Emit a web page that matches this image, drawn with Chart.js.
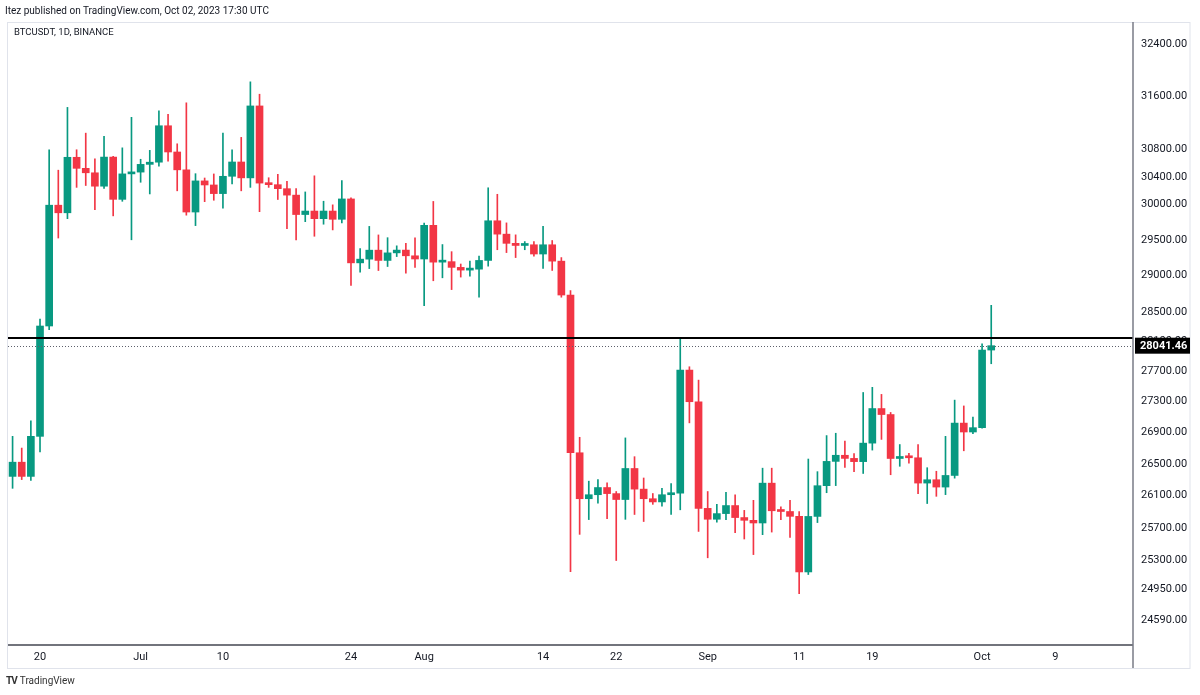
<!DOCTYPE html>
<html>
<head>
<meta charset="utf-8">
<script src="https://cdn.jsdelivr.net/npm/chart.js@4.4.0/dist/chart.umd.min.js"></script>
<style>
  html, body { margin: 0; padding: 0; background: #fff; }
  body { width: 1200px; height: 695px; position: relative; overflow: hidden; font-family: Roboto, "Liberation Sans", sans-serif; color: #131722; }
  #wrap { position: absolute; left: 0; top: 0; width: 1200px; height: 695px; }
  .txt { position: absolute; white-space: nowrap; }
  #pub { left: 5px; top: 5px; font-size: 10px; }
  #sym { left: 14px; top: 26px; font-size: 9.5px; }
  #logo { left: 6px; top: 675px; font-size: 10px; color: #333; }
  #logo b { font-size: 10px; letter-spacing: -1px; margin-right: 3px; }
</style>
</head>
<body>
<div id="wrap"><canvas id="btcChart"></canvas></div>
<div class="txt" id="pub">Itez published on TradingView.com, Oct 02, 2023 17:30 UTC</div>
<div class="txt" id="sym">BTCUSDT, 1D, BINANCE</div>
<div class="txt" id="logo"><b>TV</b>TradingView</div>
<script>
// ==========================================
// data (BTCUSDT 1D, Jun 17 - Oct 2 2023)
// ==========================================

const startDay = "2023-06-17";
const dayCount = 123;          // axis runs on to Oct 17

const opens = [
  26340, 26520, 26340, 26850, 28307, 29993, 29884, 30689, 30527, 30462,
  30267, 30692, 30077, 30446, 30472, 30585, 30617, 31156, 30767, 30505,
  29895, 30344, 30285, 30160, 30411, 30620, 30388, 31453, 30312, 30289,
  30231, 30138, 29859, 29909, 29800, 29909, 29791, 30083, 29176, 29228,
  29354, 29210, 29316, 29355, 29275, 29230, 29705, 29186, 29193, 29113,
  29075, 29088, 29210, 29770, 29580, 29450, 29420, 29430, 29300, 29430,
  29200, 28730, 26640, 26060, 26110, 26200, 26124, 26050, 26440, 26180,
  26060, 26020, 26110, 26130, 27716, 27299, 25940, 25805, 25875, 25975,
  25826, 25792, 25759, 26255, 25910, 25901, 25841, 25162, 25840, 26223,
  26530, 26608, 26568, 26527, 26763, 27210, 27132, 26567, 26580, 26576,
  26256, 26298, 26206, 26352, 27021, 26906, 26962, 27983
];
const highs = [
  26850, 26700, 27050, 28402, 30800, 30500, 31431, 30800, 31046, 30666,
  31000, 30703, 30828, 31282, 30660, 30791, 31380, 31326, 30888, 31500,
  30449, 30386, 30445, 31045, 30800, 30983, 31818, 31630, 30390, 30440,
  30336, 30233, 30184, 30418, 30050, 29998, 30350, 30099, 29376, 29690,
  29569, 29530, 29415, 29450, 29528, 29737, 30047, 29433, 29333, 29160,
  29200, 29270, 30244, 30150, 29740, 29570, 29475, 29475, 29690, 29490,
  29250, 28790, 26838, 26280, 26299, 26260, 26150, 26830, 26590, 26320,
  26125, 26190, 26250, 28142, 27760, 27583, 26150, 25990, 26140, 26110,
  25915, 26040, 26444, 26444, 25960, 26040, 25900, 26560, 26400, 26860,
  26890, 26790, 26630, 27420, 27488, 27395, 27159, 26745, 26632, 26745,
  26450, 26405, 26850, 27320, 27244, 27100, 28065, 28589
];
const lows = [
  26190, 26300, 26290, 26651, 28259, 29525, 29800, 30250, 30277, 29930,
  30236, 29840, 30049, 29500, 30324, 30155, 30559, 30633, 30200, 29850,
  29701, 30044, 30064, 29950, 30300, 30200, 30250, 29900, 30250, 30075,
  29659, 29500, 29757, 29550, 29721, 29640, 29740, 28861, 29047, 29096,
  29069, 29125, 29264, 29033, 29113, 28585, 28927, 28968, 28805, 28978,
  28990, 28702, 29130, 29360, 29320, 29250, 29360, 29270, 29100, 29070,
  28700, 25166, 25619, 25801, 26006, 25812, 25300, 25804, 25864, 25777,
  25990, 25966, 25864, 25922, 27024, 25655, 25333, 25770, 25800, 25640,
  25562, 25372, 25615, 25647, 25801, 25580, 24901, 25131, 25764, 26135,
  26224, 26455, 26400, 26377, 26674, 26811, 26361, 26468, 26509, 26122,
  26000, 26090, 26111, 26318, 26665, 26886, 26954, 27800
];
const closes = [
  26520, 26340, 26850, 28307, 29993, 29884, 30689, 30527, 30462, 30267,
  30692, 30077, 30446, 30472, 30585, 30617, 31156, 30767, 30505, 29895,
  30344, 30285, 30160, 30411, 30620, 30388, 31453, 30312, 30289, 30231,
  30138, 29859, 29909, 29800, 29909, 29791, 30083, 29176, 29228, 29354,
  29210, 29316, 29355, 29275, 29230, 29705, 29186, 29193, 29113, 29075,
  29088, 29210, 29770, 29580, 29450, 29420, 29430, 29300, 29430, 29200,
  28730, 26640, 26060, 26110, 26200, 26124, 26050, 26440, 26180, 26060,
  26020, 26110, 26130, 27716, 27299, 25940, 25805, 25875, 25975, 25826,
  25792, 25759, 26255, 25910, 25901, 25841, 25162, 25840, 26223, 26530,
  26608, 26568, 26527, 26763, 27210, 27132, 26567, 26580, 26576, 26256,
  26298, 26206, 26352, 27021, 26906, 26962, 27983, 28041.46
];

// price axis ticks
const yTickValues = [32400, 31600, 30800, 30400, 30000, 29500, 29000, 28500, 28100,
  27700, 27300, 26900, 26500, 26100, 25700, 25300, 24950, 24590];
const yMin = 24297;
const yMax = 32743;

// time axis ticks
const xTickDays = ["2023-06-20", "2023-07-01", "2023-07-10", "2023-07-24", "2023-08-01", "2023-08-14",
  "2023-08-22", "2023-09-01", "2023-09-11", "2023-09-19", "2023-10-01", "2023-10-09"];
const xTickText = ["20", "Jul", "10", "24", "Aug", "14", "22", "Sep", "11", "19", "Oct", "9"];

const levelPrice = 28142;      // horizontal line (Aug 29 high)
const lastPrice = 28041.46;

const upColor = "#089981";
const downColor = "#F23645";

// ==========================================
// build
// ==========================================

const days = [];
const d0 = new Date(startDay + "T00:00:00Z");
for (let i = 0; i < dayCount; i++) {
    const d = new Date(d0.getTime() + i * 86400000);
    days.push(d.toISOString().slice(0, 10));
}

const bodyData = opens.map((o, i) => [o, closes[i]]);
const wickData = lows.map((l, i) => [l, highs[i]]);
const candleColors = opens.map((o, i) => closes[i] >= o ? upColor : downColor);

const tickMap = {};
xTickDays.forEach((d, i) => { tickMap[d] = xTickText[i]; });

const FONT = "Roboto, 'Liberation Sans', sans-serif";

const overlay = {
    id: "overlay",
    afterDatasetsDraw(chart) {
        const c = chart.ctx;
        const a = chart.chartArea;
        const y = chart.scales.y;
        const yl = Math.round(y.getPixelForValue(levelPrice));
        const yp = Math.round(y.getPixelForValue(lastPrice)) + 0.5;
        c.save();
        // dotted last price line
        c.strokeStyle = "#5d606b";
        c.lineWidth = 1;
        c.setLineDash([1, 2]);
        c.beginPath();
        c.moveTo(a.left, yp);
        c.lineTo(a.right, yp);
        c.stroke();
        c.setLineDash([]);
        // level line
        c.strokeStyle = "#000000";
        c.lineWidth = 2;
        c.beginPath();
        c.moveTo(a.left, yl);
        c.lineTo(a.right, yl);
        c.stroke();
        c.restore();
    },
    afterDraw(chart) {
        const c = chart.ctx;
        const a = chart.chartArea;
        const y = chart.scales.y;
        const x = chart.scales.x;
        c.save();
        // outer frame
        c.strokeStyle = "#e0e3eb";
        c.lineWidth = 1;
        c.strokeRect(7.5, a.top + 0.5, y.right - 7.5, x.bottom - a.top);
        // pane borders
        c.strokeStyle = "#434651";
        c.lineWidth = 1.5;
        c.beginPath();
        c.moveTo(a.left, a.bottom);
        c.lineTo(a.right, a.bottom);
        c.stroke();
        c.strokeStyle = "#787b86";
        c.lineWidth = 1.5;
        c.beginPath();
        c.moveTo(a.right, a.top);
        c.lineTo(a.right, x.bottom);
        c.stroke();
        // last price label
        const yp = y.getPixelForValue(lastPrice);
        c.fillStyle = "#000000";
        c.fillRect(a.right + 2, yp - 8, y.right - a.right - 2, 16);
        c.fillStyle = "#ffffff";
        c.font = "bold 11px " + FONT;
        c.textBaseline = "middle";
        c.textAlign = "left";
        c.fillText(lastPrice.toFixed(2), a.right + 7, yp + 0.5);
        c.restore();
    }
};

const ctx = document.getElementById("btcChart").getContext("2d");

new Chart(ctx, {
    type: "bar",
    data: {
        labels: days,
        datasets: [
            {
                label: "body",
                data: bodyData,
                backgroundColor: candleColors,
                borderWidth: 0,
                barThickness: 7,
                minBarLength: 2,
                grouped: false
            },
            {
                label: "wick",
                data: wickData,
                backgroundColor: candleColors,
                borderWidth: 0,
                barThickness: 1,
                grouped: false
            }
        ]
    },
    options: {
        responsive: true,
        maintainAspectRatio: false,
        animation: false,
        layout: { padding: { left: 8, top: 22, right: 10, bottom: 27 } },
        plugins: {
            legend: { display: false },
            tooltip: { enabled: false }
        },
        scales: {
            x: {
                type: "category",
                offset: true,
                grid: { display: false, drawTicks: false },
                border: { display: false },
                afterFit(s) { s.height = 23; },
                ticks: {
                    autoSkip: false,
                    maxRotation: 0,
                    padding: 6,
                    color: "#131722",
                    font: { family: FONT, size: 11 },
                    callback(v, i) {
                        const t = tickMap[days[i]];
                        return t === undefined ? null : t;
                    }
                }
            },
            y: {
                type: "logarithmic",
                position: "right",
                min: yMin,
                max: yMax,
                grid: { display: false, drawTicks: false },
                border: { display: false },
                afterFit(s) { s.width = 57; },
                afterBuildTicks(s) { s.ticks = yTickValues.map(v => ({ value: v })); },
                ticks: {
                    autoSkip: false,
                    padding: 8,
                    color: "#131722",
                    font: { family: FONT, size: 11 },
                    callback(v) { return Number(v).toFixed(2); }
                }
            }
        }
    },
    plugins: [overlay]
});
</script>
</body>
</html>
